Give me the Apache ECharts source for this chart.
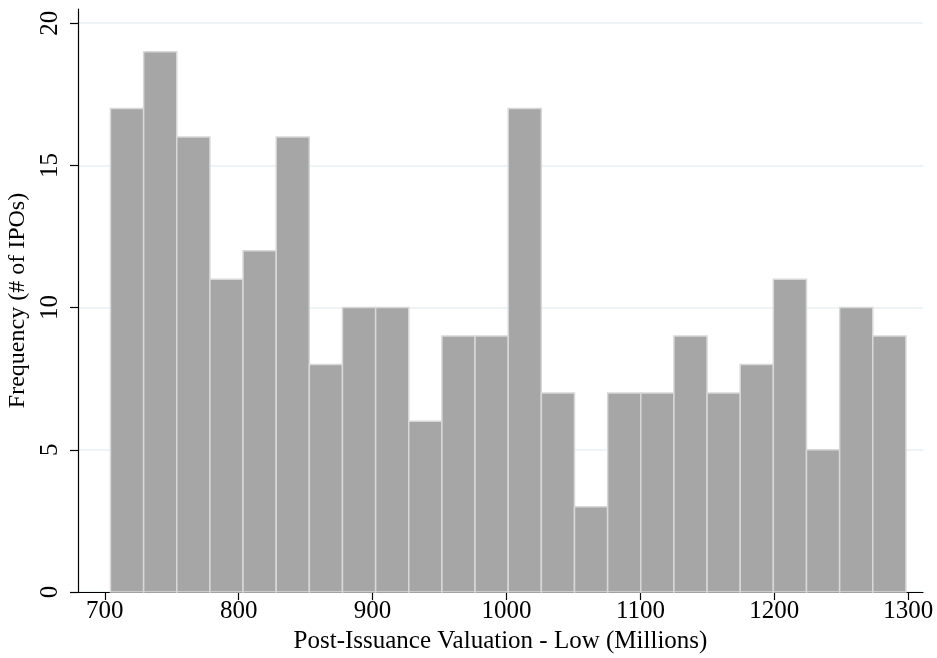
<!DOCTYPE html>
<html>
<head>
<meta charset="utf-8">
<script src="https://cdn.jsdelivr.net/npm/echarts@6/dist/echarts.min.js"></script>
<style>
  html, body { margin: 0; padding: 0; background: #fff; }
  #chart { width: 937px; height: 658px; }
</style>
</head>
<body>
<div id="chart"></div>
<script>
// histogram bins: left edge of first bin and bin width (millions)
const binStart = 704.25;
const binWidth = 24.75;
const counts = [17, 19, 16, 11, 12, 16, 8, 10, 10, 6, 9, 9, 17, 7, 3, 7, 7, 9, 7, 8, 11, 5, 10, 9];
const xTicks = [700, 800, 900, 1000, 1100, 1200, 1300];
const yTicks = [0, 5, 10, 15, 20];

const font = "'Liberation Serif', 'DejaVu Serif', serif";

let chart = echarts.init(document.getElementById("chart"));
chart.setOption({
  animation: false,
  grid: { left: 78, right: 14, top: 9, bottom: 66, outerBoundsMode: "none", containLabel: false },
  xAxis: {
    type: "value",
    min: 680,
    max: 1311,
    name: "Post-Issuance Valuation - Low (Millions)",
    nameLocation: "middle",
    nameGap: 31,
    nameTextStyle: { color: "#000", fontFamily: font, fontSize: 25 },
    axisLine: { lineStyle: { color: "#000", width: 1.2 } },
    axisTick: { length: 8, customValues: xTicks, lineStyle: { color: "#000", width: 1.2 } },
    axisLabel: {
      customValues: xTicks, color: "#000", fontFamily: font, fontSize: 25, margin: 7,
      formatter: v => String(v)
    },
    splitLine: { show: false }
  },
  yAxis: {
    type: "value",
    min: 0,
    max: 20.5,
    interval: 5,
    name: "Frequency (# of IPOs)",
    nameLocation: "middle",
    nameGap: 40,
    nameTextStyle: { color: "#000", fontFamily: font, fontSize: 24 },
    axisLine: { show: true, lineStyle: { color: "#000", width: 1.2 } },
    axisTick: { show: true, length: 8, customValues: yTicks, lineStyle: { color: "#000", width: 1.2 } },
    axisLabel: {
      customValues: yTicks, rotate: 90, color: "#000", fontFamily: font, fontSize: 25, margin: 15,
      formatter: v => String(v)
    },
    splitLine: { show: true, lineStyle: { color: "#e8f0f2", width: 1.5 } }
  },
  series: [
    {
      type: "custom",
      data: counts.map((c, i) => [binStart + i * binWidth, binStart + (i + 1) * binWidth, c]),
      renderItem: function (params, api) {
        const p0 = api.coord([api.value(0), api.value(2)]);
        const p1 = api.coord([api.value(1), 0]);
        return {
          type: "rect",
          shape: { x: p0[0], y: p0[1], width: p1[0] - p0[0], height: p1[1] - p0[1] },
          style: { fill: "#a6a6a6", stroke: "#d8d8d8", lineWidth: 1.5 }
        };
      },
      z: 3
    }
  ]
});
</script>
</body>
</html>
